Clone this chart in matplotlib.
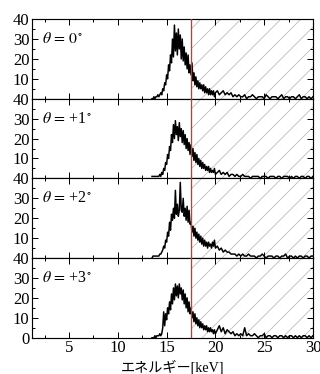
import numpy as np
import matplotlib
matplotlib.use("Agg")
import matplotlib.pyplot as plt
from matplotlib.ticker import MultipleLocator

plt.rcParams['font.family'] = ['Liberation Serif', 'Noto Sans CJK JP']
plt.rcParams['mathtext.fontset'] = 'stix'
plt.rcParams['hatch.linewidth'] = 0.5
plt.rcParams['hatch.color'] = '#bdbdbd'

# Energy grid: fine bins across the peak, coarser bins across the tail
energy_peak = np.round(np.arange(13.5, 20.05, 0.1), 1)
energy_tail = np.round(np.arange(20.2, 30.01, 0.2), 1)
energy = np.concatenate([energy_peak, energy_tail])

angle_labels = [r'$\theta\,=\,0^{\circ}$', r'$\theta\,=\,$+1$^{\circ}$',
                r'$\theta\,=\,$+2$^{\circ}$', r'$\theta\,=\,$+3$^{\circ}$']

counts_0 = [0, 0, 1, 0, 1, 1, 2, 1, 2, 3,
            2, 5, 4, 8, 7, 12, 10, 17, 14, 22,
            18, 30, 21, 37, 24, 33, 22, 35, 25, 32,
            20, 30, 19, 26, 17, 23, 15, 22, 13, 17,
            12, 18, 9, 13, 7, 11, 6, 9, 5, 8,
            5, 7, 4, 7, 3, 6, 3, 5, 2, 5,
            2, 4, 2, 4, 1, 3,
            4, 2, 3, 4, 2, 3, 2, 3, 1, 2,
            1, 2, 1, 1, 2, 0, 1, 1, 2, 1,
            0, 1, 1, 1, 0, 2, 1, 0, 1, 1,
            1, 0, 1, 2, 0, 1, 1, 0, 1, 1,
            0, 1, 2, 0, 1, 1, 0, 1, 0, 1]

counts_1 = [1, 1, 1, 1, 1, 1, 1, 1, 2, 1,
            3, 2, 5, 4, 8, 7, 12, 10, 16, 14,
            22, 18, 27, 20, 29, 22, 26, 19, 28, 21,
            25, 18, 24, 17, 22, 15, 20, 14, 18, 12,
            17, 11, 15, 9, 13, 8, 12, 7, 10, 6,
            9, 5, 8, 5, 7, 4, 6, 4, 6, 3,
            5, 3, 4, 3, 5, 2,
            3, 4, 2, 3, 2, 3, 1, 2, 2, 1,
            2, 1, 1, 2, 1, 1, 1, 0, 1, 1,
            1, 1, 0, 1, 1, 1, 0, 1, 1, 1,
            0, 1, 1, 0, 1, 1, 1, 0, 1, 0,
            1, 1, 0, 1, 1, 0, 1, 1, 0, 1]

counts_2 = [0, 1, 1, 1, 1, 1, 1, 1, 2, 2,
            3, 4, 6, 5, 9, 8, 13, 11, 18, 14,
            22, 19, 25, 20, 34, 22, 27, 21, 24, 38,
            24, 23, 30, 21, 25, 19, 26, 18, 24, 17,
            18, 13, 16, 11, 15, 10, 13, 9, 12, 8,
            11, 7, 10, 6, 9, 6, 8, 5, 8, 6,
            7, 5, 8, 6, 9, 5,
            6, 4, 5, 3, 4, 3, 3, 2, 2, 2,
            1, 2, 1, 2, 1, 1, 2, 1, 1, 1,
            0, 1, 1, 2, 1, 0, 1, 1, 1, 0,
            1, 1, 0, 1, 1, 2, 0, 1, 1, 0,
            1, 0, 1, 1, 0, 1, 1, 0, 1, 1]

counts_3 = [0, 0, 0, 1, 0, 1, 1, 1, 2, 1,
            2, 5, 13, 6, 12, 9, 15, 12, 18, 14,
            22, 17, 25, 19, 27, 21, 26, 20, 27, 22,
            25, 19, 24, 17, 22, 15, 20, 13, 18, 12,
            15, 10, 13, 8, 12, 7, 10, 6, 9, 5,
            8, 5, 7, 4, 6, 4, 6, 3, 5, 3,
            5, 3, 4, 2, 4, 2,
            4, 6, 3, 5, 2, 4, 3, 2, 3, 1,
            2, 1, 2, 1, 5, 1, 2, 1, 1, 2,
            1, 0, 1, 1, 2, 0, 1, 1, 0, 1,
            1, 0, 1, 1, 0, 1, 0, 1, 1, 0,
            1, 0, 1, 0, 1, 1, 0, 1, 0, 1]

spectra = [counts_0, counts_1, counts_2, counts_3]
cutoff_energy = 17.5

fig = plt.figure(figsize=(320 / 120, 374 / 120), dpi=120)
axes = fig.subplots(4, 1, sharex=True)
fig.subplots_adjust(left=0.1, right=0.978, top=0.949, bottom=0.097, hspace=0)

for i, (ax, counts, label) in enumerate(zip(axes, spectra, angle_labels)):
    ax.axvspan(cutoff_energy, 30, facecolor='none', edgecolor='#bdbdbd',
               hatch='//', linewidth=0, zorder=0)
    ax.plot(energy, counts, color='black', linewidth=0.9, zorder=2)
    ax.axvline(cutoff_energy, color='#e03030', linewidth=0.8, zorder=3)
    ax.set_xlim(1.2, 30)
    ax.set_ylim(0, 40)
    ax.set_yticks([0, 10, 20, 30, 40])
    if i < 3:
        ax.set_yticklabels(['', '10', '20', '30', '40'])
    ax.yaxis.set_minor_locator(MultipleLocator(5))
    ax.xaxis.set_major_locator(MultipleLocator(5))
    ax.xaxis.set_minor_locator(MultipleLocator(2.5))
    ax.tick_params(which='both', direction='in', top=True, right=True,
                   labelsize=10, pad=1.5, width=0.6)
    ax.tick_params(which='major', length=3.5)
    ax.tick_params(which='minor', length=2)
    for s in ax.spines.values():
        s.set_linewidth(0.7)
    ax.text(2.2, 30, label, fontsize=9.5, va='center', ha='left')

axes[-1].set_xlabel('エネルギー[keV]', fontsize=8.5, labelpad=2)

fig.savefig('out.png', dpi=120)
